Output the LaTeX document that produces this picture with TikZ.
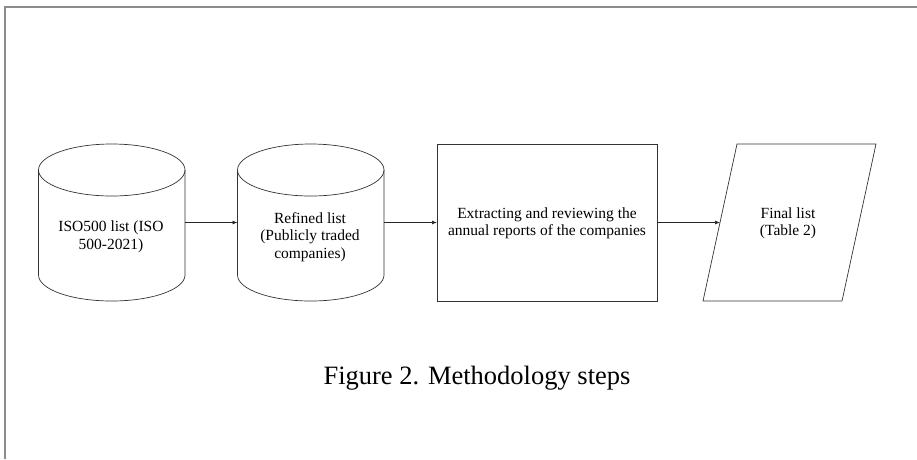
\documentclass[tikz,border=0pt]{standalone}
\usepackage{fontspec}
\setmainfont{Liberation Serif}
\usetikzlibrary{arrows.meta}

\tikzset{
    edge/.style={draw=black!80, line width=0.7pt},
    box/.style={edge, rectangle, inner sep=0pt, outer sep=0pt},
    txt/.style={align=center, font=\fontsize{15.5}{17.5}\selectfont},
    flow/.style={draw=black!85, line width=0.7pt, -{Latex[length=5pt,width=4pt]}}
}

\begin{document}
\begin{tikzpicture}[x=1pt,y=-1pt]
    \useasboundingbox (0,0) rectangle (917,459);
    \draw[black!45, line width=1.2pt] (917,7) -- (5,7) -- (5,459);

    % first database
    \draw[edge] (38.5,170) -- (38.5,275) arc[start angle=180, end angle=360, x radius=73.25pt, y radius=26pt] -- (185,170);
    \draw[edge] (111.75,170) ellipse [x radius=73.25pt, y radius=26pt];
    \coordinate (isoE) at (185,222.5);

    % second database
    \draw[edge] (237.5,170) -- (237.5,275) arc[start angle=180, end angle=360, x radius=73.25pt, y radius=26pt] -- (384,170);
    \draw[edge] (310.75,170) ellipse [x radius=73.25pt, y radius=26pt];
    \coordinate (refW) at (237.5,222.5);
    \coordinate (refE) at (384,222.5);

    \node[box, minimum width=220pt, minimum height=157pt] (review) at (547,222.5) {};

    \draw[edge] (703,301) -- (737,144) -- (876,144) -- (842,301) -- cycle;
    \coordinate (finL) at (720,222.5);

    \node[txt] (isoT) at (111,237) {ISO500 list (ISO\\500-2021)};
    \node[txt] (refinedT) at (310,237) {Refined list\\(Publicly traded\\companies)};
    \node[txt] (reviewT) at (547,223.5) {Extracting and reviewing the\\annual reports of the companies};
    \node[txt] (finT) at (788,223.5) {Final list\\(Table 2)};

    \draw[flow] (isoE) -- (refW);
    \draw[flow] (refE) -- (review.west);
    \draw[flow] (review.east) -- (finL);

    \node[font=\fontsize{26.5}{30}\selectfont] (caption) at (477,378) {Figure 2. Methodology steps};
\end{tikzpicture}
\end{document}
